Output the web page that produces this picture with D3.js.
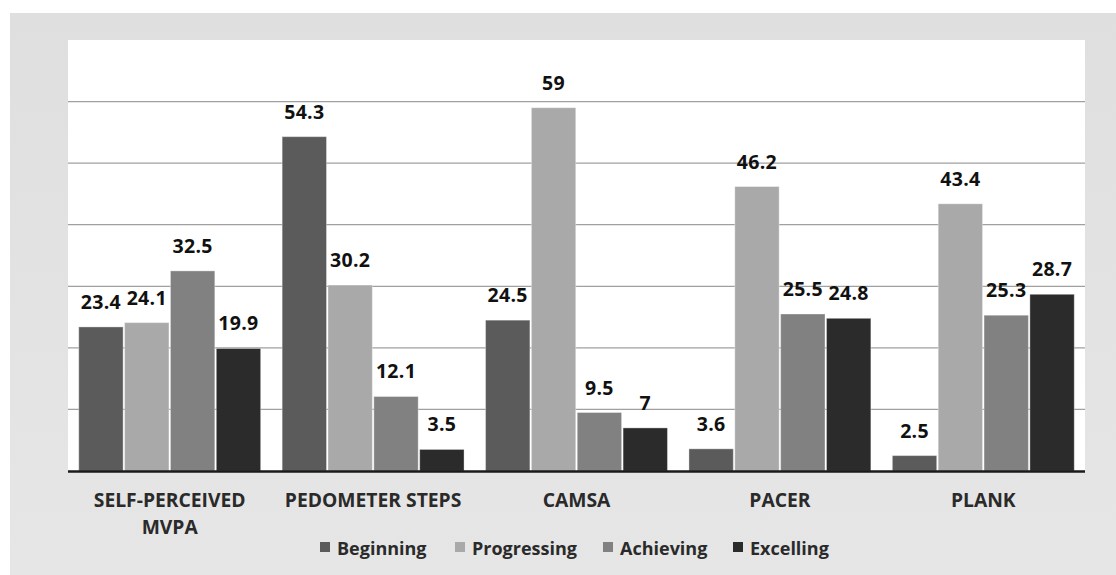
<!DOCTYPE html>
<html><head><meta charset="utf-8">
<script src="https://cdn.jsdelivr.net/npm/d3@7"></script>
<style>body{margin:0;background:#fff;} svg{display:block;}</style>
</head><body>
<svg id="c" width="1116" height="575"></svg>
<script>
const categories = [["SELF-PERCEIVED","MVPA"],["PEDOMETER STEPS"],["CAMSA"],["PACER"],["PLANK"]];
const seriesNames = ["Beginning","Progressing","Achieving","Excelling"];
const beginning   = [23.4, 54.3, 24.5, 3.6, 2.5];
const progressing = [24.1, 30.2, 59, 46.2, 43.4];
const achieving   = [32.5, 12.1, 9.5, 25.5, 25.3];
const excelling   = [19.9, 3.5, 7, 24.8, 28.7];
const yTicks = [10, 20, 30, 40, 50, 60];
const colors = ["#5b5b5b", "#a9a9a9", "#818181", "#2b2b2b"];

(function(){
const seriesValues = [beginning, progressing, achieving, excelling];
const svg = d3.select("#c");
const font = "'Open Sans', sans-serif";

const bg = svg.append("defs").append("linearGradient").attr("id","bg").attr("x1",0).attr("y1",0).attr("x2",0).attr("y2",1);
bg.append("stop").attr("offset","0%").attr("stop-color","#dfdfdf");
bg.append("stop").attr("offset","100%").attr("stop-color","#e6e6e6");
svg.append("rect").attr("x",10).attr("y",13).attr("width",1106).attr("height",562).attr("fill","url(#bg)");

const pL = 68, pR = 1085, pT = 40, pB = 471;
svg.append("rect").attr("x",pL).attr("y",pT).attr("width",pR-pL).attr("height",pB-pT).attr("fill","#ffffff");

const keys = categories.map(c => c.join(" "));
const x0 = d3.scaleBand().domain(keys).range([pL, pR]).padding(0);
const x1 = d3.scaleBand().domain(seriesNames).range([10, x0.bandwidth()-10]).padding(0);
const y = d3.scaleLinear().domain([0, 70]).range([pB, pT]);

svg.append("g").selectAll("line").data(yTicks).join("line")
  .attr("x1", pL).attr("x2", pR)
  .attr("y1", d => y(d)).attr("y2", d => y(d))
  .attr("stroke", "#a0a0a0").attr("stroke-width", 1.3);

const groups = svg.append("g").selectAll("g").data(keys).join("g")
  .attr("transform", d => `translate(${x0(d)},0)`);
groups.each(function(k, ci) {
  const g = d3.select(this);
  seriesNames.forEach((s, si) => {
    const v = seriesValues[si][ci];
    g.append("rect")
      .attr("x", x1(s) + 0.75).attr("width", x1.bandwidth() - 1.5)
      .attr("y", y(v)).attr("height", y(0) - y(v))
      .attr("fill", colors[si])
      .attr("stroke", "rgba(255,255,255,0.35)").attr("stroke-width", 1);
    g.append("text")
      .attr("x", x1(s) + x1.bandwidth()/2)
      .attr("y", y(v) - 18)
      .attr("text-anchor", "middle")
      .attr("font-family", font).attr("font-weight", "bold").attr("font-size", 19.5)
      .attr("letter-spacing", 0.3)
      .attr("fill", "#111")
      .text(v);
  });
});

svg.append("line").attr("x1", pL).attr("x2", pR).attr("y1", pB+0.5).attr("y2", pB+0.5)
  .attr("stroke", "#1a1a1a").attr("stroke-width", 2.5);

const xl = svg.append("g").selectAll("text").data(categories).join("text")
  .attr("x", (d, i) => x0(keys[i]) + x0.bandwidth()/2)
  .attr("y", 507)
  .attr("text-anchor", "middle")
  .attr("font-family", font).attr("font-weight", "bold").attr("font-size", 19.3)
  .attr("fill", "#2a2a2a");
xl.each(function(d) {
  const t = d3.select(this);
  d.forEach((line, li) => {
    t.append("tspan").attr("x", t.attr("x")).attr("dy", li === 0 ? 0 : 27).text(line);
  });
});

const legendX = [320, 455, 603, 733];
const lg = svg.append("g").selectAll("g").data(seriesNames).join("g")
  .attr("transform", (d, i) => `translate(${legendX[i]},555)`);
lg.append("rect").attr("x", 0).attr("y", -13).attr("width", 10).attr("height", 10)
  .attr("fill", (d, i) => colors[i]);
lg.append("text").attr("x", 17).attr("y", 0)
  .attr("font-family", font).attr("font-weight", "bold").attr("font-size", 18)
  .attr("fill", "#2a2a2a").text(d => d);
})();
</script>
</body></html>
